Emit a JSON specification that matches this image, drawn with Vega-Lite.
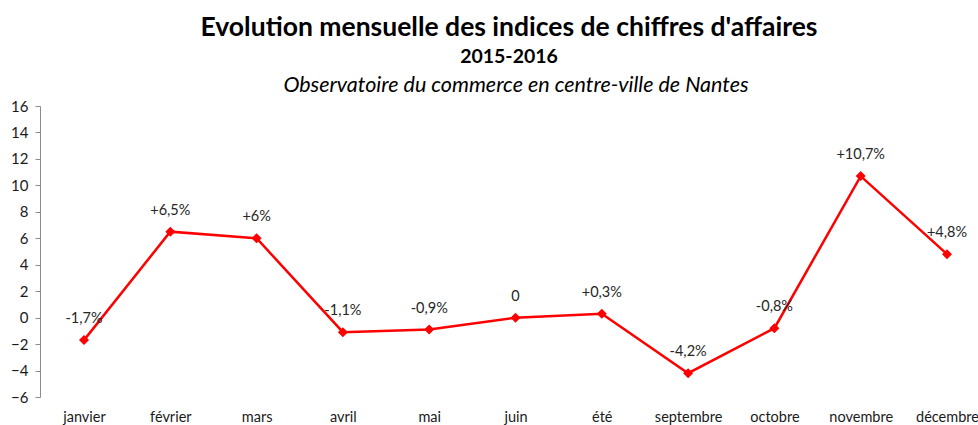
{
  "$schema": "https://vega.github.io/schema/vega-lite/v6.json",
  "width": 938,
  "height": 291,
  "autosize": {"type": "none"},
  "padding": {"left": 40, "top": 106, "right": 0, "bottom": 28},
  "background": "white",
  "config": {"view": {"stroke": null}, "font": "Lato"},
  "title": {
    "text": "Evolution mensuelle des indices de chiffres d'affaires",
    "subtitle": "2015-2016",
    "font": "Lato",
    "fontSize": 26.5,
    "fontWeight": "bold",
    "color": "#000000",
    "subtitleFont": "Lato",
    "subtitleFontSize": 19.5,
    "subtitleFontWeight": "bold",
    "subtitleColor": "#000000",
    "subtitlePadding": 6,
    "anchor": "middle",
    "offset": 8
  },
  "data": {
    "values": [
      {"mois": "janvier", "valeur": -1.7, "label": "-1,7%"},
      {"mois": "février", "valeur": 6.5, "label": "+6,5%"},
      {"mois": "mars", "valeur": 6, "label": "+6%"},
      {"mois": "avril", "valeur": -1.1, "label": "-1,1%"},
      {"mois": "mai", "valeur": -0.9, "label": "-0,9%"},
      {"mois": "juin", "valeur": 0, "label": "0"},
      {"mois": "été", "valeur": 0.3, "label": "+0,3%"},
      {"mois": "septembre", "valeur": -4.2, "label": "-4,2%"},
      {"mois": "octobre", "valeur": -0.8, "label": "-0,8%"},
      {"mois": "novembre", "valeur": 10.7, "label": "+10,7%"},
      {"mois": "décembre", "valeur": 4.8, "label": "+4,8%"}
    ]
  },
  "encoding": {
    "y": {
      "field": "valeur",
      "type": "quantitative",
      "scale": {"domain": [-6, 16], "nice": false, "zero": false},
      "axis": {
        "title": null,
        "values": [-6, -4, -2, 0, 2, 4, 6, 8, 10, 12, 14, 16],
        "labelOverlap": false,
        "grid": false,
        "domainColor": "#8c8c8c",
        "tickColor": "#8c8c8c",
        "tickSize": 5,
        "labelFontSize": 15,
        "labelColor": "#1a1a1a",
        "labelPadding": 7,
        "labelFont": "Lato"
      }
    }
  },
  "layer": [
    {
      "mark": {
        "type": "line",
        "color": "#FF0000",
        "strokeWidth": 2.5,
        "point": {"shape": "diamond", "filled": true, "color": "#FF0000", "size": 100, "opacity": 1}
      },
      "encoding": {
        "x": {
          "field": "mois",
          "type": "ordinal",
          "sort": null,
          "scale": {"type": "point", "range": [44, 907], "padding": 0},
          "axis": {
            "orient": "bottom",
            "title": null,
            "domain": false,
            "ticks": false,
            "labelAngle": 0,
            "labelFontSize": 14.5,
            "labelColor": "#1a1a1a",
            "labelPadding": 13,
            "labelFont": "Lato"
          }
        }
      }
    },
    {
      "mark": {"type": "text", "dy": -21, "fontSize": 14.5, "color": "#262626", "font": "Lato", "baseline": "middle"},
      "encoding": {
        "x": {
          "field": "mois",
          "type": "ordinal",
          "sort": null,
          "axis": {
            "orient": "top",
            "title": "Observatoire du commerce en centre-ville de Nantes",
            "labels": false,
            "ticks": false,
            "domain": false,
            "titleFontSize": 21.5,
            "titleFontStyle": "italic",
            "titleFontWeight": "normal",
            "titleColor": "#000000",
            "titlePadding": 10,
            "titleFont": "Lato"
          }
        },
        "text": {"field": "label"}
      }
    }
  ]
}
